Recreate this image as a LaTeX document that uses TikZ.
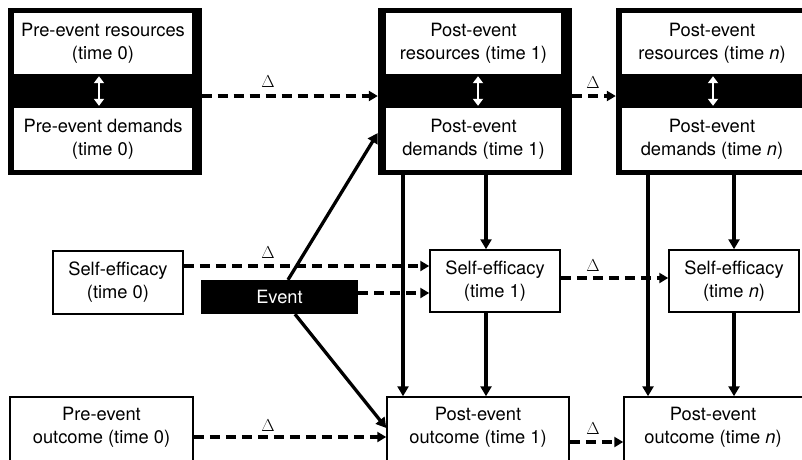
\documentclass[tikz,border=0pt]{standalone}
\usepackage{fontspec}
\setmainfont{TeX Gyre Heros}
\usetikzlibrary{arrows.meta,calc}
\begin{document}
\begin{tikzpicture}[x=1pt,y=-1pt,
 txt/.style={font=\fontsize{18.3}{23}\selectfont, align=center},
 whitebox/.style={fill=white, draw=none, minimum width=178pt, minimum height=61pt, inner sep=0pt, txt},
 blackbox/.style={fill=black, draw=none, minimum width=194pt, minimum height=167pt, inner sep=0pt},
 box/.style={draw=black, line width=1.5pt, fill=white, inner sep=0pt, txt},
 arr/.style={line width=3.3pt, -{Triangle[length=10pt,width=11pt]}},
 darr/.style={line width=3.3pt, dash pattern=on 10pt off 6pt, -{Triangle[length=9pt,width=10pt]}},
 warr/.style={white, line width=2.6pt, {Triangle[length=7pt,width=10pt]}-{Triangle[length=7pt,width=10pt]}},
 delta/.style={font=\fontsize{17}{17}\selectfont, inner sep=0pt}]
\useasboundingbox (0,0) rectangle (802,459);
\clip (0,0) rectangle (802,459);
% resource/demand groups
\node[blackbox] (g1) at (104.5,91.5) {};
\node[whitebox] (r0) at (103,43.5) {Pre-event resources\\(time 0)};
\node[whitebox, minimum height=62pt] (d0) at (103,139) {Pre-event demands\\(time 0)};
\node[blackbox] (g2) at (475,91.5) {};
\node[whitebox, minimum width=175pt] (r1) at (473.5,43.5) {Post-event\\resources (time 1)};
\node[whitebox, minimum width=175pt, minimum height=62pt] (dm1) at (473.5,139) {Post-event\\demands (time 1)};
\node[blackbox, minimum width=196pt] (g3) at (714,91.5) {};
\node[whitebox, minimum width=180pt] (rn) at (712,43.5) {Post-event\\resources (time \textit{n})};
\node[whitebox, minimum width=180pt, minimum height=62pt] (dmn) at (712,139) {Post-event\\demands (time \textit{n})};
% self-efficacy and event
\node[box, minimum width=130pt, minimum height=63pt] (s0) at (118,282.5) {Self-efficacy\\(time 0)};
\node[box, minimum width=130pt, minimum height=62pt] (s1) at (495,281) {Self-efficacy\\(time 1)};
\node[box, minimum width=130pt, minimum height=62pt] (sn) at (734,281) {Self-efficacy\\(time \textit{n})};
\node[fill=black, text=white, minimum width=157pt, minimum height=34pt, inner sep=0pt, txt] (ev) at (279.5,297) {Event};
% outcomes
\node[box, minimum width=183pt, minimum height=80pt] (o0) at (101.5,437) {};
\node[txt, inner sep=0pt] (t0) at (101.5,427) {Pre-event\\outcome (time 0)};
\node[box, minimum width=182pt, minimum height=80pt] (o1) at (478,437) {};
\node[txt, inner sep=0pt] (t1) at (478,427) {Post-event\\outcome (time 1)};
\node[box, minimum width=182pt, minimum height=80pt] (on) at (715,437) {};
\node[txt, inner sep=0pt] (tn) at (713,427) {Post-event\\outcome (time \textit{n})};
% white double arrows
\draw[warr] ($(r0.south)+(-4,2)$) -- ($(d0.north)+(-4,-2)$);
\draw[warr] ($(r1.south)+(4.5,2)$) -- ($(dm1.north)+(4.5,-2)$);
\draw[warr] ($(rn.south)+(1,2)$) -- ($(dmn.north)+(1,-2)$);
% dashed change arrows
\draw[darr] (g1.east |- 0,96) -- (g2.west |- 0,96);
\draw[darr] (g2.east |- 0,96) -- (g3.west |- 0,96);
\draw[darr] (s0.east |- 0,266) -- (s1.west |- 0,266);
\draw[darr] (ev.east |- 0,293) -- (s1.west |- 0,293);
\draw[darr] (s1.east |- 0,278) -- (sn.west |- 0,278);
\draw[darr] (o0.east |- 0,437) -- (o1.west |- 0,437);
\draw[darr] (o1.east |- 0,442) -- (on.west |- 0,442);
\node[delta] (D1) at (268,82) {$\Delta$};
\node[delta] (D2) at (593,83) {$\Delta$};
\node[delta] (D3) at (268,253) {$\Delta$};
\node[delta] (D4) at (593,266) {$\Delta$};
\node[delta] (D5) at (268,426) {$\Delta$};
\node[delta] (D6) at (593,429) {$\Delta$};
% solid arrows
\draw[arr] (g2.south -| 403,0) -- (o1.north -| 403,0);
\draw[arr] (g2.south -| 486,0) -- (s1.north -| 486,0);
\draw[arr] (s1.south -| 486,0) -- (o1.north -| 486,0);
\draw[arr] (g3.south -| 648,0) -- (on.north -| 648,0);
\draw[arr] (g3.south -| 734,0) -- (sn.north -| 734,0);
\draw[arr] (sn.south -| 734,0) -- (on.north -| 734,0);
\draw[arr] (ev.north -| 288,0) -- (g2.west |- 0,133);
\draw[arr] (ev.south -| 295,0) -- (o1.west |- 0,428);
\end{tikzpicture}
\end{document}
